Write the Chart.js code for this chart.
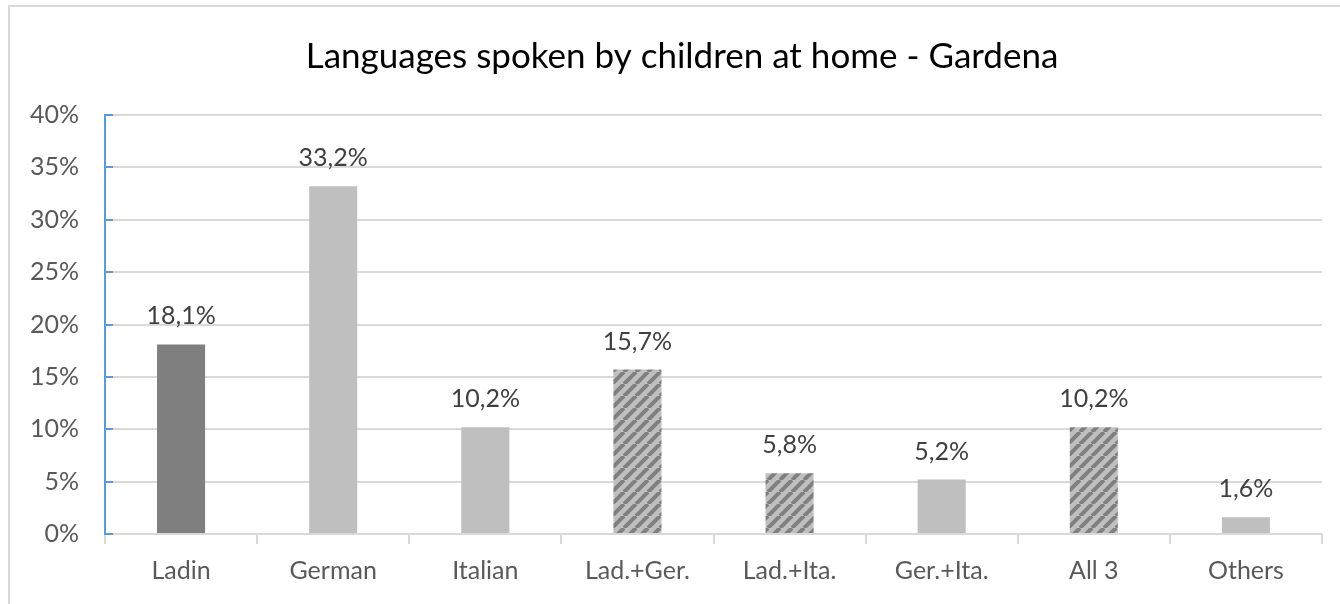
<!DOCTYPE html>
<html lang="en">
<head>
  <meta charset="UTF-8">
  <title>Languages spoken by children at home - Gardena</title>
  <script src="https://cdn.jsdelivr.net/npm/chart.js"></script>
  <style>
    html, body { margin: 0; padding: 0; background: #fff; overflow: hidden; }
    #wrap { position: relative; width: 1340px; height: 604px; }
    #frame { position: absolute; left: 8px; top: 5px; width: 1400px; height: 700px; border: 2px solid #d9d9d9; }
    #chart { position: absolute; left: 0; top: 0; }
  </style>
</head>
<body>
  <div id="wrap">
    <div id="frame"></div>
    <canvas id="chart" width="1340" height="604"></canvas>
  </div>

  <script>
    const title = 'Languages spoken by children at home - Gardena';
    const labels = ['Ladin', 'German', 'Italian', 'Lad.+Ger.', 'Lad.+Ita.', 'Ger.+Ita.', 'All 3', 'Others'];
    const shares = [18.1, 33.2, 10.2, 15.7, 5.8, 5.2, 10.2, 1.6];
    // 'solid' dark, 'light' grey, 'mixed' hatched
    const kinds = ['solid', 'light', 'light', 'mixed', 'mixed', 'light', 'mixed', 'light'];
    const yTicks = [0, 5, 10, 15, 20, 25, 30, 35, 40];

    const FONT = 'Lato, "Open Sans", sans-serif';

    // diagonal stripes for the mixed-language bars
    function stripes() {
      const s = 12;
      const c = document.createElement('canvas');
      c.width = s; c.height = s;
      const g = c.getContext('2d');
      g.fillStyle = '#bfbfbf';
      g.fillRect(0, 0, s, s);
      g.strokeStyle = '#7f7f7f';
      g.lineWidth = 4;
      g.beginPath();
      for (let k = -1; k <= 1; k++) {
        g.moveTo(k * s, s);
        g.lineTo(k * s + s, 0);
      }
      g.stroke();
      return g.createPattern(c, 'repeat');
    }

    const ctx = document.getElementById('chart').getContext('2d');
    const hatch = stripes();
    const fills = kinds.map(k => k === 'solid' ? '#7f7f7f' : k === 'mixed' ? hatch : '#bfbfbf');

    const fmt = v => v.toFixed(1).replace('.', ',') + '%';

    // title centred on the whole frame, not just the plot box
    const frameTitle = {
      id: 'frameTitle',
      afterDraw(chart) {
        const c = chart.ctx;
        c.save();
        c.font = '35px ' + FONT;
        c.fillStyle = '#000';
        c.textAlign = 'center';
        c.textBaseline = 'middle';
        c.fillText(title, 682, 57);
        c.restore();
      }
    };

    const valueLabels = {
      id: 'valueLabels',
      afterDatasetsDraw(chart) {
        const c = chart.ctx;
        const meta = chart.getDatasetMeta(0);
        c.save();
        c.font = '25px ' + FONT;
        c.fillStyle = '#404040';
        c.textAlign = 'center';
        c.textBaseline = 'alphabetic';
        meta.data.forEach((bar, i) => {
          c.fillText(fmt(shares[i]), bar.x, bar.y - 20);
        });
        c.restore();
      }
    };

    // short blue tick marks pointing into the plot
    const innerTicks = {
      id: 'innerTicks',
      afterDraw(chart) {
        const c = chart.ctx;
        const y = chart.scales.y;
        const left = chart.chartArea.left;
        c.save();
        c.strokeStyle = '#5b9bd5';
        c.lineWidth = 2;
        c.beginPath();
        yTicks.forEach(t => {
          const py = Math.round(y.getPixelForValue(t));
          c.moveTo(left, py);
          c.lineTo(left + 8, py);
        });
        c.stroke();
        c.restore();
      }
    };

    new Chart(ctx, {
      type: 'bar',
      data: {
        labels: labels,
        datasets: [{
          data: shares,
          backgroundColor: fills,
          borderWidth: 0,
          categoryPercentage: 1,
          barPercentage: 0.316
        }]
      },
      options: {
        responsive: false,
        animation: false,
        layout: { padding: { left: 0, right: 18, top: 115, bottom: 0 } },
        plugins: {
          legend: { display: false },
          tooltip: { enabled: false },
          title: { display: false }
        },
        scales: {
          x: {
            grid: {
              offset: true,
              drawOnChartArea: false,
              color: '#d9d9d9',
              lineWidth: 2,
              tickLength: 10
            },
            border: { color: '#d9d9d9', width: 2 },
            ticks: {
              color: '#595959',
              font: { family: FONT, size: 25 },
              padding: 12,
              maxRotation: 0
            },
            afterFit(scale) { scale.height = 70; }
          },
          y: {
            min: 0,
            max: 40,
            afterBuildTicks(scale) { scale.ticks = yTicks.map(v => ({ value: v })); },
            grid: { color: '#d9d9d9', lineWidth: 2, drawTicks: false },
            border: { color: '#5b9bd5', width: 2 },
            ticks: {
              color: '#595959',
              font: { family: FONT, size: 25 },
              padding: 26,
              callback: v => v + '%'
            },
            afterFit(scale) { scale.width = 105; }
          }
        }
      },
      plugins: [frameTitle, valueLabels, innerTicks]
    });
  </script>
</body>
</html>
